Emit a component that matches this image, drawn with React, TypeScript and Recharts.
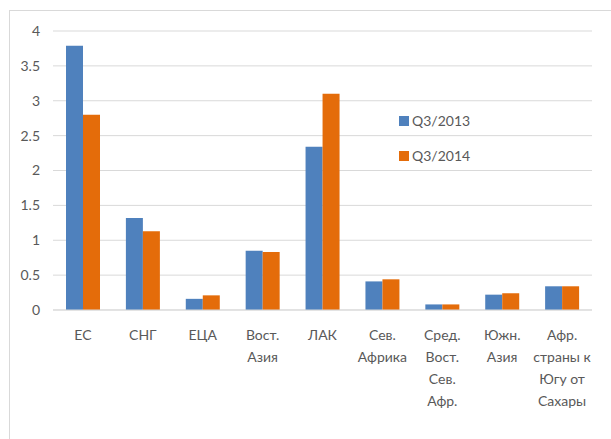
import { BarChart, Bar, XAxis, YAxis, CartesianGrid, Legend } from "recharts";

const regions = [
  ["ЕС"],
  ["СНГ"],
  ["ЕЦА"],
  ["Вост.", "Азия"],
  ["ЛАК"],
  ["Сев.", "Африка"],
  ["Сред.", "Вост.", "Сев.", "Афр."],
  ["Южн.", "Азия"],
  ["Афр.", "страны к", "Югу от", "Сахары"],
];
const q3_2013 = [3.79, 1.32, 0.16, 0.85, 2.34, 0.41, 0.08, 0.22, 0.34];
const q3_2014 = [2.8, 1.13, 0.21, 0.83, 3.1, 0.44, 0.08, 0.24, 0.34];
const yTicks = [0, 0.5, 1, 1.5, 2, 2.5, 3, 3.5, 4];

const data = regions.map((r, i) => ({
  name: r.join("\n"),
  q2013: q3_2013[i],
  q2014: q3_2014[i],
}));

const BLUE = "#4F81BD";
const ORANGE = "#E46C0A";
const TEXT = "#595959";
const GRID = "#D9D9D9";
const FONT = "Lato, 'Open Sans', sans-serif";

function RegionTick({ x, y, payload }: any) {
  const lines = String(payload.value).split("\n");
  return (
    <text x={x} y={y} textAnchor="middle" fill={TEXT} fontSize={14} fontFamily={FONT}>
      {lines.map((l, i) => (
        <tspan key={i} x={x} dy={i === 0 ? 30 : 22}>
          {l}
        </tspan>
      ))}
    </text>
  );
}

function LegendBox({ payload }: any) {
  return (
    <div style={{ fontFamily: FONT, fontSize: 14, color: TEXT }}>
      {(payload || []).map((p: any, i: number) => (
        <div key={i} style={{ display: "flex", alignItems: "center", height: 35 }}>
          <span style={{ width: 10, height: 10, background: p.color, marginRight: 3, display: "inline-block" }} />
          <span>{p.value}</span>
        </div>
      ))}
    </div>
  );
}

export default function App() {
  return (
    <div style={{ position: "fixed", left: 0, top: 0, width: 611, height: 439, overflow: "hidden", background: "#fff" }}>
      <div
        style={{
          position: "absolute",
          left: 9,
          top: 10,
          width: 700,
          height: 500,
          border: `1px solid ${GRID}`,
        }}
      />
      <div style={{ position: "absolute", left: 0, top: 0 }}>
        <BarChart
          width={611}
          height={439}
          data={data}
          margin={{ top: 31, right: 19, left: 0, bottom: 29 }}
          barGap={0}
          barSize={17}
        >
          <CartesianGrid vertical={false} stroke={GRID} strokeWidth={1} />
          <XAxis
            dataKey="name"
            interval={0}
            height={100}
            tickLine={false}
            axisLine={{ stroke: GRID }}
            tickSize={0}
            tickMargin={0}
            tick={<RegionTick />}
          />
          <YAxis
            width={53}
            domain={[0, 4]}
            ticks={yTicks}
            axisLine={false}
            tickLine={false}
            tickSize={0}
            tickMargin={13}
            tick={{ fill: TEXT, fontSize: 14, fontFamily: FONT }}
          />
          <Legend
            layout="horizontal"
            verticalAlign="middle"
            align="center"
            content={<LegendBox />}
            wrapperStyle={{ position: "absolute", left: 399, top: 103, width: 120 }}
          />
          <Bar dataKey="q2013" name="Q3/2013" fill={BLUE} isAnimationActive={false} />
          <Bar dataKey="q2014" name="Q3/2014" fill={ORANGE} isAnimationActive={false} />
        </BarChart>
      </div>
    </div>
  );
}
